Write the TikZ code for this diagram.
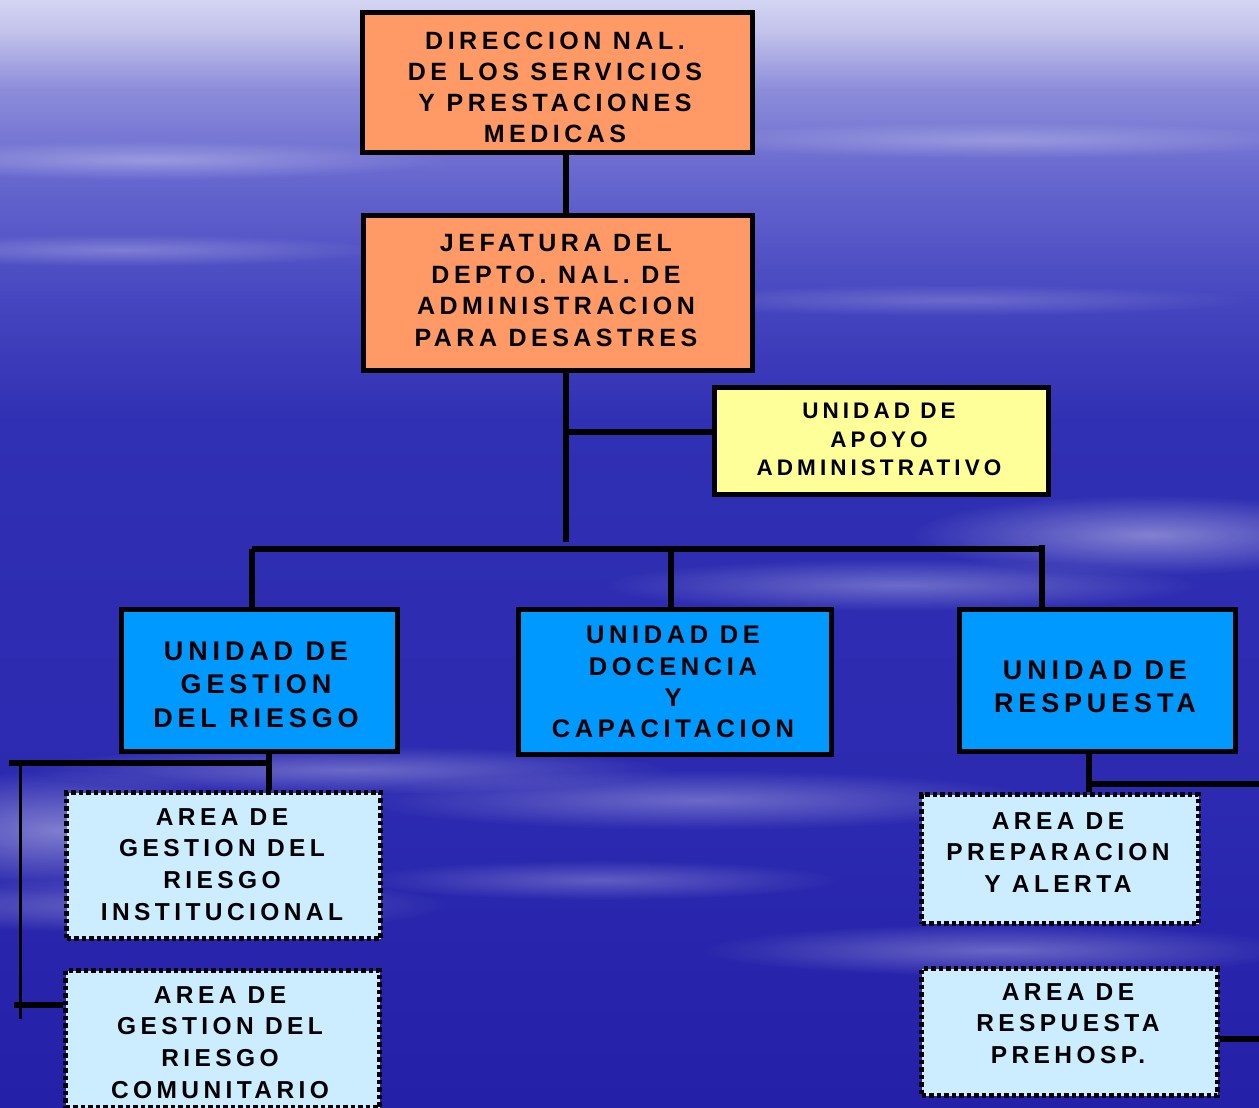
\documentclass[tikz,border=0pt]{standalone}
\usepackage{fontspec}
\setmainfont{Liberation Sans}
\newfontfamily\bxf[LetterSpace=18]{Liberation Sans}
\usetikzlibrary{fadings}
\definecolor{cOrange}{RGB}{255,153,102}
\definecolor{cYellow}{RGB}{255,255,153}
\definecolor{cBlue}{RGB}{0,153,255}
\definecolor{cLight}{RGB}{204,236,255}
\definecolor{sk0}{RGB}{212,212,243}
\definecolor{sk1}{RGB}{196,196,236}
\definecolor{sk2}{RGB}{140,140,218}
\definecolor{sk3}{RGB}{105,105,208}
\definecolor{sk4}{RGB}{70,70,192}
\definecolor{sk5}{RGB}{48,48,180}
\definecolor{sk6}{RGB}{44,42,176}
\definecolor{sk7}{RGB}{36,32,168}
\tikzfading[name=softfade, inner color=transparent!0, outer color=transparent!100]
\tikzset{
  box/.style={draw=black, line width=5pt, inner sep=0pt},
  orangebox/.style={box, fill=cOrange},
  yellowbox/.style={box, fill=cYellow},
  bluebox/.style={box, fill=cBlue},
  dotbox/.style={draw=black, line width=5pt, dash pattern=on 4.5pt off 3pt, fill=cLight, inner sep=0pt},
  txt/.style={align=center, inner sep=0pt, text=black},
  conn/.style={line width=5.5pt},
  thinconn/.style={line width=3pt},
  cloud/.style={fill=white, path fading=softfade},
}
\begin{document}
\begin{tikzpicture}[x=1pt,y=-1pt]
\useasboundingbox (0,0) rectangle (1259,1108);
% sky background
\fill[top color=sk0, bottom color=sk1] (0,0) rectangle (1259,30);
\fill[top color=sk1, bottom color=sk2] (0,30) rectangle (1259,90);
\fill[top color=sk2, bottom color=sk3] (0,90) rectangle (1259,170);
\fill[top color=sk3, bottom color=sk4] (0,170) rectangle (1259,300);
\fill[top color=sk4, bottom color=sk5] (0,300) rectangle (1259,420);
\fill[top color=sk5, bottom color=sk6] (0,420) rectangle (1259,800);
\fill[top color=sk6, bottom color=sk7] (0,800) rectangle (1259,1108);
% clouds / streaks
\fill[cloud, opacity=0.3] (150,160) ellipse (300 and 20);
\fill[cloud, opacity=0.25] (1000,140) ellipse (320 and 18);
\fill[cloud, opacity=0.25] (120,250) ellipse (260 and 16);
\fill[cloud, opacity=0.2] (950,300) ellipse (300 and 16);
\fill[cloud, opacity=0.4] (1150,535) ellipse (240 and 40);
\fill[cloud, opacity=0.3] (900,585) ellipse (300 and 26);
\fill[cloud, opacity=0.4] (60,830) ellipse (200 and 60);
\fill[cloud, opacity=0.3] (350,770) ellipse (320 and 24);
\fill[cloud, opacity=0.3] (700,800) ellipse (340 and 30);
\fill[cloud, opacity=0.3] (150,905) ellipse (300 and 28);
\fill[cloud, opacity=0.3] (1000,950) ellipse (300 and 26);
\fill[cloud, opacity=0.25] (600,880) ellipse (240 and 20);

% boxes
\node[orangebox, minimum width=390pt, minimum height=140pt] (dir) at (557.5,82.5) {};
\node[orangebox, minimum width=389pt, minimum height=155pt] (jef) at (558,293) {};
\node[yellowbox, minimum width=334pt, minimum height=107pt] (apoyo) at (881.5,441) {};
\node[bluebox, minimum width=276pt, minimum height=142pt] (gestion) at (259.5,680.5) {};
\node[bluebox, minimum width=313pt, minimum height=145pt] (docencia) at (675,682) {};
\node[bluebox, minimum width=276pt, minimum height=142pt] (respuesta) at (1097.5,680.5) {};
\node[dotbox, minimum width=314pt, minimum height=146pt] (inst) at (223.5,865.5) {};
\node[dotbox, minimum width=314pt, minimum height=137pt] (comu) at (222.5,1039) {};
\node[dotbox, minimum width=277pt, minimum height=129pt] (prep) at (1060,859) {};
\node[dotbox, minimum width=296pt, minimum height=127pt] (prehosp) at (1069.5,1032) {};

% texts
\node[txt, font=\bxf\bfseries\fontsize{25}{31}\selectfont] (dirT) at (555,87.5)
  {DIRECCION NAL.\\DE LOS SERVICIOS\\Y PRESTACIONES\\MEDICAS};
\node[txt, font=\bxf\bfseries\fontsize{25}{31.7}\selectfont] (jefT) at (556,290.5)
  {JEFATURA DEL\\DEPTO. NAL. DE\\ADMINISTRACION\\PARA DESASTRES};
\node[txt, font=\bxf\bfseries\fontsize{22.5}{28.5}\selectfont] (apoyoT) at (879,439.5)
  {UNIDAD DE\\APOYO\\ADMINISTRATIVO};
\node[txt, font=\bxf\bfseries\fontsize{27}{33.5}\selectfont] (gestionT) at (256,684.5)
  {UNIDAD DE\\GESTION\\DEL RIESGO};
\node[txt, font=\bxf\bfseries\fontsize{25.5}{31.3}\selectfont] (docT) at (673,682)
  {UNIDAD DE\\DOCENCIA\\Y\\CAPACITACION};
\node[txt, font=\bxf\bfseries\fontsize{27}{33}\selectfont] (respT) at (1095,686.5)
  {UNIDAD DE\\RESPUESTA};
\node[txt, font=\bxf\bfseries\fontsize{24.5}{31.7}\selectfont] (instT) at (222,864.5)
  {AREA DE\\GESTION DEL\\RIESGO\\INSTITUCIONAL};
\node[txt, font=\bxf\bfseries\fontsize{24.5}{31.7}\selectfont] (comuT) at (220,1042.5)
  {AREA DE\\GESTION DEL\\RIESGO\\COMUNITARIO};
\node[txt, font=\bxf\bfseries\fontsize{24.5}{31.5}\selectfont] (prepT) at (1058,852.5)
  {AREA DE\\PREPARACION\\Y ALERTA};
\node[txt, font=\bxf\bfseries\fontsize{24.5}{31.5}\selectfont] (prehT) at (1068,1023.5)
  {AREA DE\\RESPUESTA\\PREHOSP.};

% connector coordinates
\coordinate (tk) at (566,542);
\coordinate (br) at (566,432);
\coordinate (busL) at (252,549);
\coordinate (busM) at (671,549);
\coordinate (busR) at (1042,549);
\coordinate (rTop) at (1042,545);
\coordinate (gL) at (269,763);
\coordinate (lL) at (9,763);
\coordinate (lv) at (20,763);
\coordinate (lvb) at (20,1019);
\coordinate (lh) at (14,1005);
\coordinate (rA) at (1089,784);
\coordinate (rAend) at (1259,784);
\coordinate (rB) at (1259,1039);

% connectors
\draw[conn] (dir.south -| tk) -- (jef.north -| tk);
\draw[conn] (jef.south -| tk) -- (tk);
\draw[conn] (br) -- (br -| apoyo.west);
\draw[conn] (busL) -- (busR);
\draw[conn] (busL) -- (busL |- gestion.north);
\draw[conn] (busM) -- (busM |- docencia.north);
\draw[conn] (rTop) -- (rTop |- respuesta.north);
\draw[conn] (gL |- gestion.south) -- (gL |- inst.north);
\draw[conn] (lL) -- (gL);
\draw[thinconn] (lv) -- (lvb);
\draw[conn] (lh) -- (lh -| comu.west);
\draw[conn] (rA |- respuesta.south) -- (rA |- prep.north);
\draw[conn] (rA) -- (rAend);
\draw[conn] (rB -| prehosp.east) -- (rB);
\end{tikzpicture}
\end{document}
